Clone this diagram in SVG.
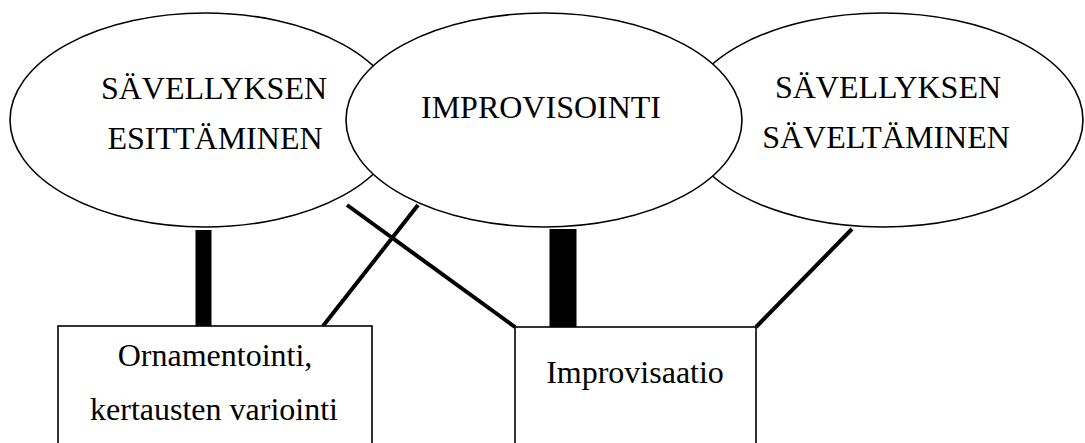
<svg xmlns="http://www.w3.org/2000/svg" width="1085" height="443" viewBox="0 0 1085 443">
<style>
.shape{fill:#fff;stroke:#000;stroke-width:1.6}
.t{font-family:"Liberation Serif",serif;font-size:32px;fill:#000;text-anchor:middle}
.c{stroke:#000;fill:none}
</style>
<rect width="1085" height="443" fill="#fff"/>
<g id="node-esittaminen">
<ellipse class="shape" cx="205" cy="120" rx="195" ry="107"/>
<text class="t" x="214" y="99">SÄVELLYKSEN</text>
<text class="t" x="215" y="149">ESITTÄMINEN</text>
</g>
<g id="node-saveltaminen">
<ellipse class="shape" cx="883" cy="120" rx="200" ry="107"/>
<text class="t" x="888" y="98">SÄVELLYKSEN</text>
<text class="t" x="886" y="148">SÄVELTÄMINEN</text>
</g>
<g id="node-improvisointi">
<ellipse class="shape" cx="544" cy="120" rx="198" ry="107"/>
<text class="t" x="541" y="118">IMPROVISOINTI</text>
</g>
<g id="connectors">
<line class="c" x1="203.5" y1="230" x2="203.5" y2="326" stroke-width="16"/>
<line class="c" x1="563" y1="229" x2="563" y2="327" stroke-width="27"/>
<line class="c" x1="347" y1="205" x2="515" y2="327" stroke-width="4"/>
<line class="c" x1="418" y1="205" x2="323" y2="326" stroke-width="4"/>
<line class="c" x1="852" y1="229" x2="756" y2="327" stroke-width="4"/>
</g>
<g id="node-ornamentointi">
<rect class="shape" x="58" y="326" width="314" height="130"/>
<text class="t" x="215" y="366">Ornamentointi,</text>
<text class="t" x="214" y="420">kertausten variointi</text>
</g>
<g id="node-improvisaatio">
<rect class="shape" x="515" y="327" width="241" height="130"/>
<text class="t" x="635" y="383">Improvisaatio</text>
</g>
</svg>
